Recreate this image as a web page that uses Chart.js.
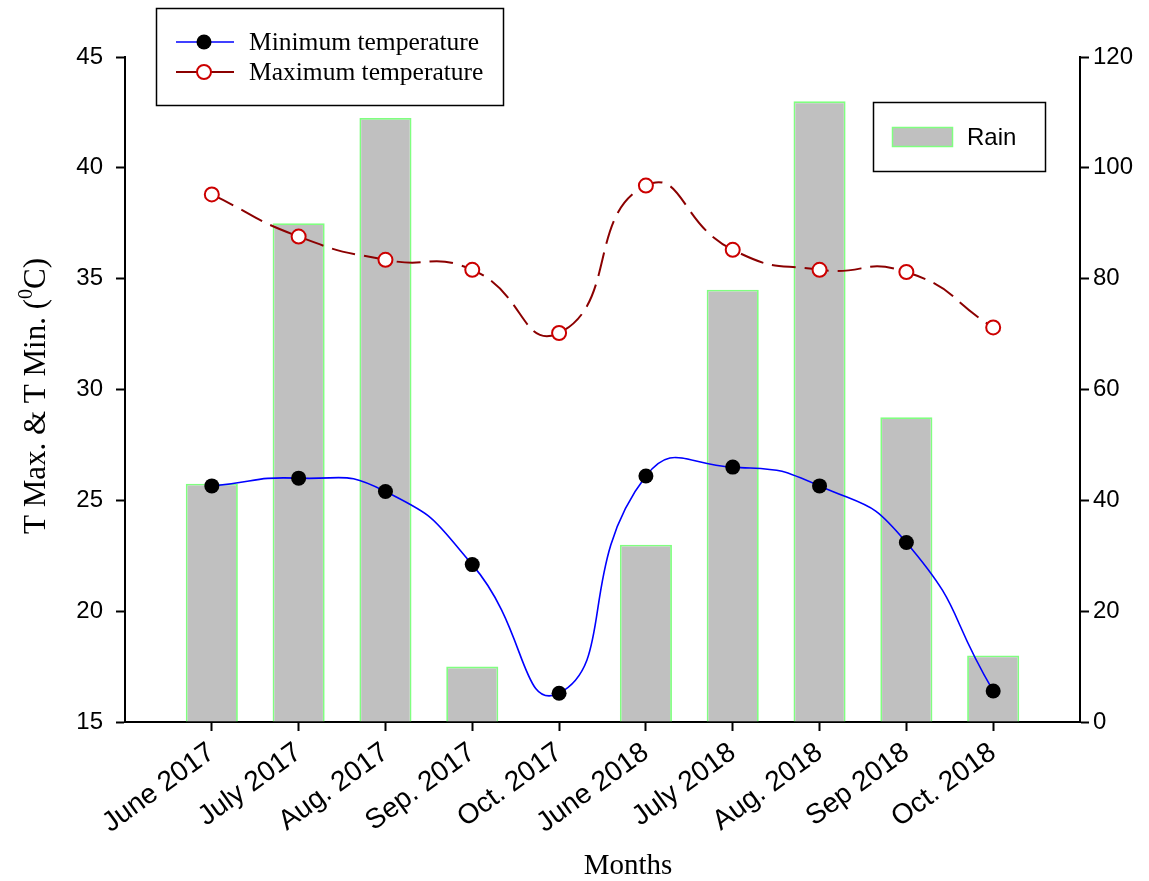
<!DOCTYPE html>
<html><head><meta charset="utf-8">
<script src="https://cdn.jsdelivr.net/npm/chart.js@4.4.1/dist/chart.umd.min.js"></script>
<style>html,body{margin:0;padding:0;background:#fff;} #wrap{width:1149px;height:881px;}</style>
</head><body><div id="wrap"><canvas id="c" width="1149" height="881"></canvas></div>
<script>
// ---- data ----
const categories = ['June 2017','July 2017','Aug. 2017','Sep. 2017','Oct. 2017','June 2018','July 2018','Aug. 2018','Sep 2018','Oct. 2018'];
const rainMm = [43, 90, 109, 10, 0, 32, 78, 112, 55, 12];
const minTemp = [25.65, 26.0, 25.4, 22.1, 16.3, 26.1, 26.5, 25.65, 23.1, 16.4];
const maxTemp = [38.8, 36.9, 35.85, 35.4, 32.55, 39.2, 36.3, 35.4, 35.3, 32.8];
const tempTicks = [15, 20, 25, 30, 35, 40, 45];
const rainTicks = [0, 20, 40, 60, 80, 100, 120];
const seriesNames = ['Minimum temperature', 'Maximum temperature', 'Rain'];
const axisTitles = {x: 'Months', y: 'T Max. & T Min. ('};

// padded category list: one empty slot at each end
const labels = [''].concat(categories, ['']);
const pad = arr => [null].concat(arr, [null]);

const SANS = "'Liberation Sans', Arial, sans-serif";
const SERIF = "'Liberation Serif', 'Times New Roman', serif";

const overlay = {
  id: 'overlay',
  afterDraw(chart) {
    const c = chart.ctx;
    c.save();
    // legend box 1
    c.lineWidth = 1.5; c.strokeStyle = '#000';
    c.strokeRect(156.5, 8.5, 347, 97);
    // row 1
    c.strokeStyle = '#0000ff'; c.lineWidth = 1.5;
    c.beginPath(); c.moveTo(176, 42); c.lineTo(234, 42); c.stroke();
    c.fillStyle = '#000'; c.beginPath(); c.arc(204, 42, 7.5, 0, Math.PI*2); c.fill();
    // row 2
    c.strokeStyle = '#8b0000'; c.lineWidth = 2;
    c.beginPath(); c.moveTo(176, 72); c.lineTo(234, 72); c.stroke();
    c.fillStyle = '#fff'; c.strokeStyle = '#cc0000'; c.lineWidth = 2;
    c.beginPath(); c.arc(204, 72, 7, 0, Math.PI*2); c.fill(); c.stroke();
    c.fillStyle = '#000'; c.font = '25.5px ' + SERIF; c.textBaseline = 'middle'; c.textAlign = 'left';
    c.fillText(seriesNames[0], 249, 43);
    c.fillText(seriesNames[1], 249, 73);
    // legend box 2
    c.strokeStyle = '#000'; c.lineWidth = 1.5;
    c.strokeRect(873.5, 102.5, 172, 69);
    c.fillStyle = '#c0c0c0'; c.fillRect(892, 127, 61, 20);
    c.strokeStyle = '#80ff80'; c.lineWidth = 1.5; c.strokeRect(892.5, 127.5, 60, 19);
    c.fillStyle = '#000'; c.font = '24px ' + SANS;
    c.fillText(seriesNames[2], 967, 138);
    // x title
    c.font = '29px ' + SERIF; c.textAlign = 'center';
    c.fillText(axisTitles.x, 628, 866);
    // y title with superscript
    c.translate(45, 396); c.rotate(-Math.PI/2);
    c.textAlign = 'left'; c.textBaseline = 'alphabetic';
    const f1 = '31px ' + SERIF, f2 = '20px ' + SERIF;
    c.font = f1; const w1 = c.measureText(axisTitles.y).width;
    c.font = f2; const w2 = c.measureText('0').width;
    c.font = f1; const w3 = c.measureText('C)').width;
    let x0 = -(w1 + w2 + w3) / 2;
    c.fillText(axisTitles.y, x0, 0);
    c.font = f2; c.fillText('0', x0 + w1, -13);
    c.font = f1; c.fillText('C)', x0 + w1 + w2, 0);
    c.restore();
  }
};

const tickFont = {family: SANS, size: 24};

new Chart(document.getElementById('c'), {
  type: 'bar',
  data: {
    labels: labels,
    datasets: [
      {type: 'line', label: seriesNames[0], data: pad(minTemp), yAxisID: 'y', order: 1,
       borderColor: '#0000ff', borderWidth: 1.6, tension: 0.55, fill: false,
       pointRadius: 7.5, pointBackgroundColor: '#000', pointBorderColor: '#000', pointBorderWidth: 0},
      {type: 'line', label: seriesNames[1], data: pad(maxTemp), yAxisID: 'y', order: 2,
       borderColor: '#8b0000', borderWidth: 2, borderDash: [24, 9], tension: 0.55, fill: false,
       pointRadius: 7, pointBackgroundColor: '#fff', pointBorderColor: '#cc0000', pointBorderWidth: 2},
      {type: 'bar', label: seriesNames[2], data: pad(rainMm), yAxisID: 'y1', order: 3,
       backgroundColor: '#c0c0c0', borderColor: '#80ff80', borderWidth: 1.8,
       barPercentage: 0.6, categoryPercentage: 1}
    ]
  },
  options: {
    responsive: false, animation: false,
    layout: {padding: {top: 57, left: 0, right: 0, bottom: 0}},
    plugins: {legend: {display: false}, tooltip: {enabled: false}},
    scales: {
      x: {
        offset: false,
        grid: {offset: false, drawOnChartArea: false, drawTicks: true, tickLength: 9, tickWidth: 2,
               tickColor: c => (c.index === 0 || c.index === labels.length - 1) ? 'rgba(0,0,0,0)' : '#000'},
        border: {display: true, color: '#000', width: 2},
        ticks: {autoSkip: false, maxRotation: 36, minRotation: 36, font: {family: SANS, size: 28}, color: '#000', padding: 5},
        afterFit: s => { s.height = 159; }
      },
      y: {
        position: 'left', min: tempTicks[0], max: tempTicks[tempTicks.length - 1],
        afterBuildTicks: s => { s.ticks = tempTicks.map(v => ({value: v})); },
        grid: {drawOnChartArea: false, drawTicks: true, tickLength: 9, tickWidth: 2, tickColor: '#000'},
        border: {display: true, color: '#000', width: 2},
        ticks: {font: tickFont, color: '#000', padding: 13},
        afterFit: s => { s.width = 125; }
      },
      y1: {
        position: 'right', min: rainTicks[0], max: rainTicks[rainTicks.length - 1],
        afterBuildTicks: s => { s.ticks = rainTicks.map(v => ({value: v})); },
        grid: {drawOnChartArea: false, drawTicks: true, tickLength: 9, tickWidth: 2, tickColor: '#000'},
        border: {display: true, color: '#000', width: 2},
        ticks: {font: tickFont, color: '#000', padding: 4},
        afterFit: s => { s.width = 69; }
      }
    }
  },
  plugins: [overlay]
});
</script></body></html>
